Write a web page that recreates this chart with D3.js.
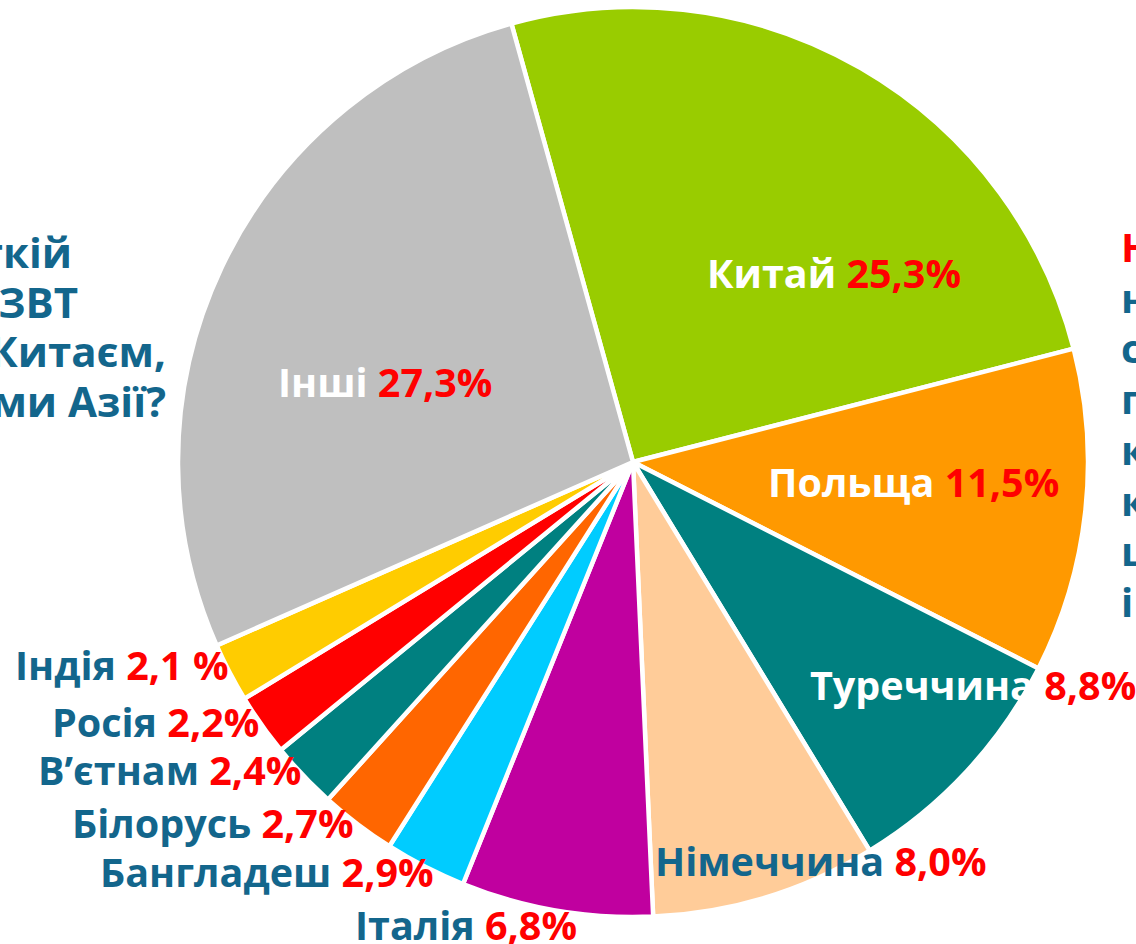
<!DOCTYPE html>
<html lang="uk">
<head>
<meta charset="UTF-8">
<script src="https://d3js.org/d3.v7.min.js"></script>
<title>Pie</title>
<style>
  body { margin: 0; background: #fff; }
  text { font-family: "Open Sans", "Noto Sans", sans-serif; font-weight: 700; }
</style>
</head>
<body>
<svg id="mainsvg" width="1136" height="944"></svg>
<script>
  // дані
  const countries = ['Китай', 'Польща', 'Туреччина', 'Німеччина', 'Італія', 'Бангладеш',
    'Білорусь', 'В’єтнам', 'Росія', 'Індія', 'Інші'];
  const shares = [25.3, 11.5, 8.8, 8.0, 6.8, 2.9, 2.7, 2.4, 2.2, 2.1, 27.3];
  const shareLabels = ['25,3%', '11,5%', '8,8%', '8,0%', '6,8%', '2,9%', '2,7%', '2,4%', '2,2%', '2,1 %', '27,3%'];
  const colors = ['#99cc00', '#ff9900', '#008080', '#ffcc99', '#c0009f', '#00ccff',
    '#ff6600', '#008080', '#ff0000', '#ffcc00', '#bfbfbf'];
  const insideLabel = [true, true, true, false, false, false, false, false, false, false, true];
  // фрагменти обрізаного тексту по боках
  const leftLines = ['ткій', 'ЗВТ', 'Китаєм,', 'ми Азії?'];
  const rightLines = ['Н', 'н', 'с', 'п', 'к', 'к', 'ц', 'і'];

  // розміщення підписів (лише макет)
  const labelPos = [[707, 288], [768, 497], [810, 700], [655, 876], [355, 940], [100, 887],
    [72, 838], [38, 785], [52, 737], [15, 680], [278, 397]];

  const svg = d3.select('#mainsvg');
  const cx = 633, cy = 462, r = 455;
  const blue = '#13668c';

  const data = countries.map((c, i) => ({ name: c, value: shares[i], label: shareLabels[i], color: colors[i], inside: insideLabel[i] }));

  const pie = d3.pie().sort(null).value(d => d.value)
    .startAngle(-15.5 * Math.PI / 180)
    .endAngle(344.5 * Math.PI / 180);
  const arc = d3.arc().innerRadius(0).outerRadius(r);

  const g = svg.append('g').attr('transform', `translate(${cx}, ${cy})`);
  g.selectAll('path').data(pie(data)).enter().append('path')
    .attr('d', arc)
    .attr('fill', d => d.data.color)
    .attr('stroke', '#fff')
    .attr('stroke-width', 4.5)
    .attr('stroke-linejoin', 'round');

  const labels = svg.append('g');
  data.forEach((d, i) => {
    const t = labels.append('text')
      .attr('x', labelPos[i][0])
      .attr('y', labelPos[i][1])
      .attr('font-size', 39.5);
    t.append('tspan').attr('fill', d.inside ? '#fff' : blue).text(d.name + ' ');
    t.append('tspan').attr('fill', '#ff0000').text(d.label);
  });

  // лівий текст
  svg.append('g').selectAll('text').data(leftLines).enter().append('text')
    .attr('x', (d, i) => [72, 78, 166, 166][i])
    .attr('y', (d, i) => 268 + i * 49.5)
    .attr('text-anchor', 'end')
    .attr('font-size', 42)
    .attr('fill', blue)
    .text(d => d);

  // правий текст
  svg.append('g').selectAll('text').data(rightLines).enter().append('text')
    .attr('x', 1121)
    .attr('y', (d, i) => 262 + i * 50.7)
    .attr('font-size', 40)
    .attr('fill', (d, i) => i === 0 ? '#ff0000' : blue)
    .text(d => d);
</script>
</body>
</html>
